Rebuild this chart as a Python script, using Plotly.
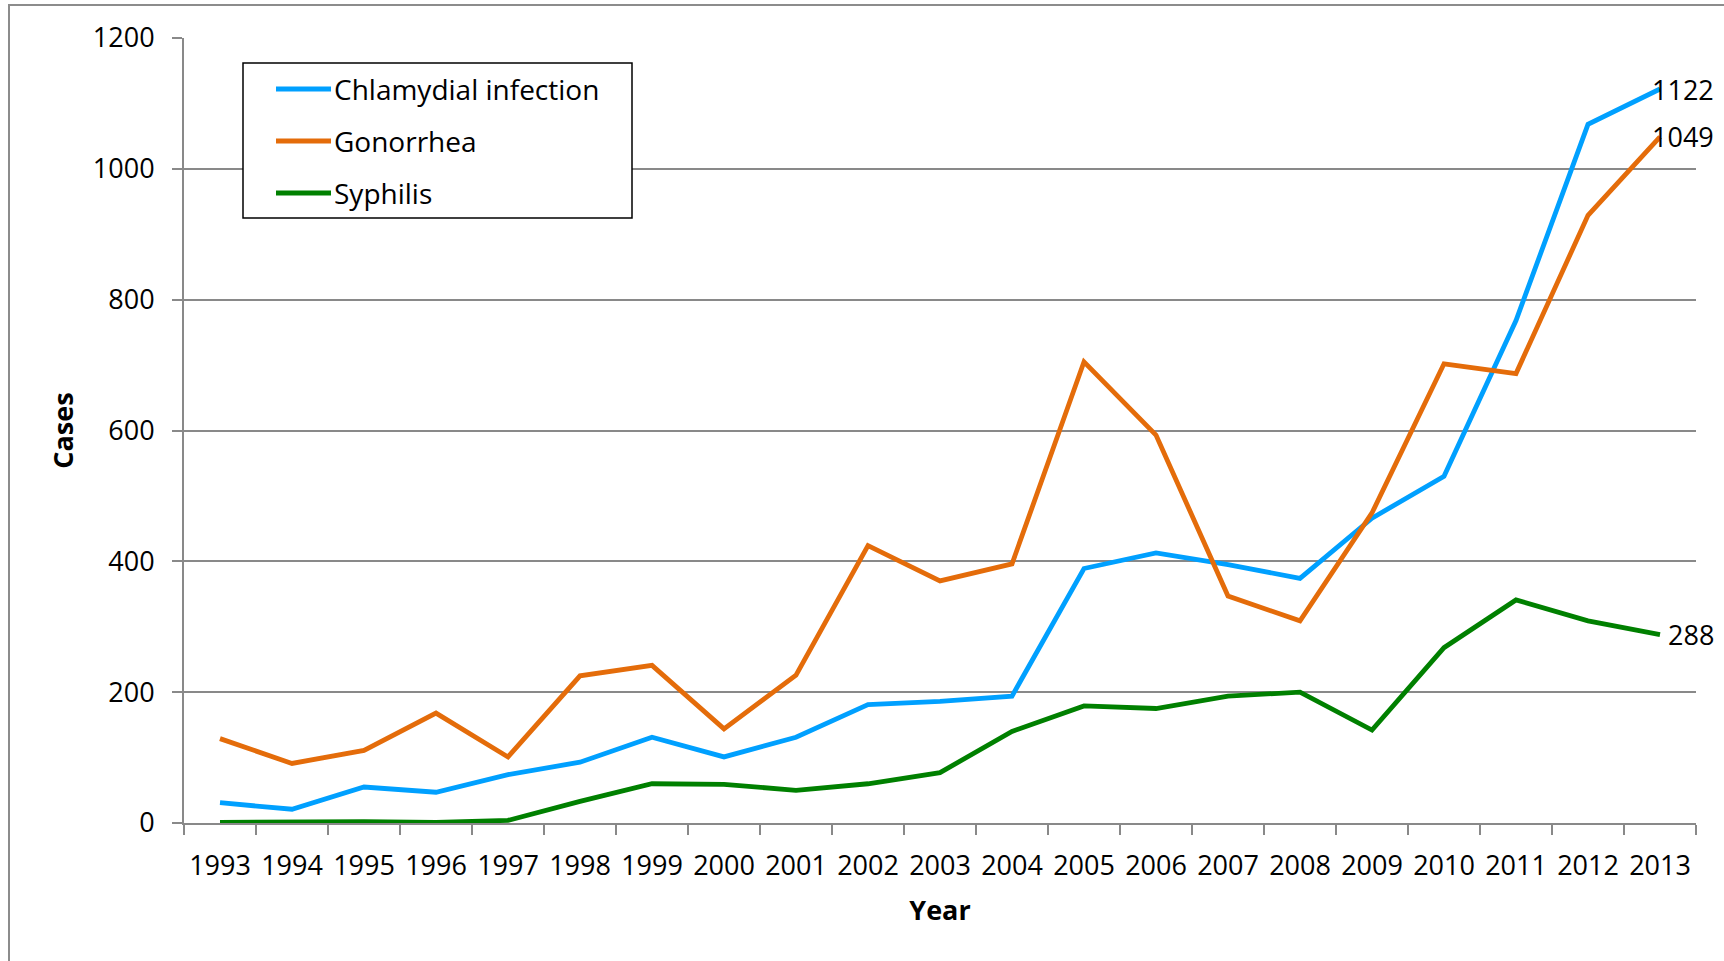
import plotly.graph_objects as go

# Reported cases by year
years = [str(y) for y in range(1993, 2014)]
chlamydia = [31, 21, 55, 47, 74, 93, 131, 101, 131, 181, 186, 194, 389, 413, 395, 374,
             466, 530, 768, 1068, 1122]
gonorrhea = [129, 91, 111, 168, 101, 225, 241, 144, 226, 424, 370, 396, 705, 593, 347, 309,
             474, 702, 687, 929, 1049]
syphilis = [1, 2, 2, 1, 4, 33, 60, 59, 50, 60, 77, 140, 179, 175, 194, 200,
            142, 268, 341, 309, 288]

series_names = ["Chlamydial infection", "Gonorrhea", "Syphilis"]
series_values = [chlamydia, gonorrhea, syphilis]
series_colors = ["#00A0FF", "#E46C0A", "#008000"]

y_ticks = [0, 200, 400, 600, 800, 1000, 1200]

FONT = "Open Sans, Lato, DejaVu Sans, sans-serif"
FS = 27
GRID = "#898989"

W, H = 1724, 961
ML, MR, MT, MB = 184, 28, 38, 138
PW, PH = W - ML - MR, H - MT - MB


def px_x(x):
    return (x - ML) / PW


def px_y(y):
    return (H - MB - y) / PH


fig = go.Figure()
for name, vals, col in zip(series_names, series_values, series_colors):
    fig.add_trace(go.Scatter(
        x=years, y=vals, mode="lines", name=name,
        line=dict(color=col, width=4.8), showlegend=False,
    ))

# Final-year value labels, right aligned
shapes = []
annotations = []
for vals in series_values:
    annotations.append(dict(
        x=px_x(1716), xref="paper", y=vals[-1], yref="y",
        text=str(vals[-1]), showarrow=False, xanchor="right", yanchor="middle",
        font=dict(family=FONT, size=FS, color="black"),
    ))

# Legend box
shapes.append(dict(type="rect", xref="paper", yref="paper",
                   x0=px_x(243), x1=px_x(632), y0=px_y(218), y1=px_y(63),
                   line=dict(color="black", width=1.5), fillcolor="white", layer="above"))
for i, (name, col) in enumerate(zip(series_names, series_colors)):
    yy = 89 + i * 52
    shapes.append(dict(type="line", xref="paper", yref="paper",
                       x0=px_x(276), x1=px_x(331), y0=px_y(yy), y1=px_y(yy),
                       line=dict(color=col, width=4.8), layer="above"))
    annotations.append(dict(
        x=px_x(332), xref="paper", y=px_y(yy), yref="paper", text=name,
        showarrow=False, xanchor="left", yanchor="middle",
        font=dict(family=FONT, size=28, color="black"),
    ))

# Outer chart frame
shapes.append(dict(type="rect", xref="paper", yref="paper",
                   x0=px_x(9), x1=px_x(W + 20), y0=px_y(H + 20), y1=px_y(5),
                   line=dict(color="#8C8C8C", width=2), layer="below"))

fig.update_layout(
    width=W, height=H,
    margin=dict(l=ML, r=MR, t=MT, b=MB, pad=0, autoexpand=False),
    paper_bgcolor="white", plot_bgcolor="white",
    font=dict(family=FONT, size=FS, color="black"),
    shapes=shapes, annotations=annotations,
    showlegend=False,
)

fig.update_xaxes(
    type="category", range=[-0.5, len(years) - 0.5], tickangle=0, automargin=False,
    tickson="boundaries", ticks="outside", ticklen=10, tickwidth=2, tickcolor=GRID,
    showline=True, linecolor=GRID, linewidth=2, showgrid=False,
    tickfont=dict(family=FONT, size=FS), ticklabelstandoff=18,
    title=dict(text="<b>Year</b>", font=dict(family=FONT, size=FS), standoff=19),
)
fig.update_yaxes(
    range=[0, 1200], tickvals=y_ticks, ticktext=[str(v) for v in y_ticks],
    automargin=False,
    ticks="outside", ticklen=10, tickwidth=2, tickcolor=GRID,
    showline=True, linecolor=GRID, linewidth=2,
    showgrid=True, gridcolor=GRID, gridwidth=2, zeroline=False,
    tickfont=dict(family=FONT, size=FS), ticklabelstandoff=12,
    title=dict(text="<b>Cases</b>", font=dict(family=FONT, size=FS), standoff=11),
)

fig.write_html("out.html")
